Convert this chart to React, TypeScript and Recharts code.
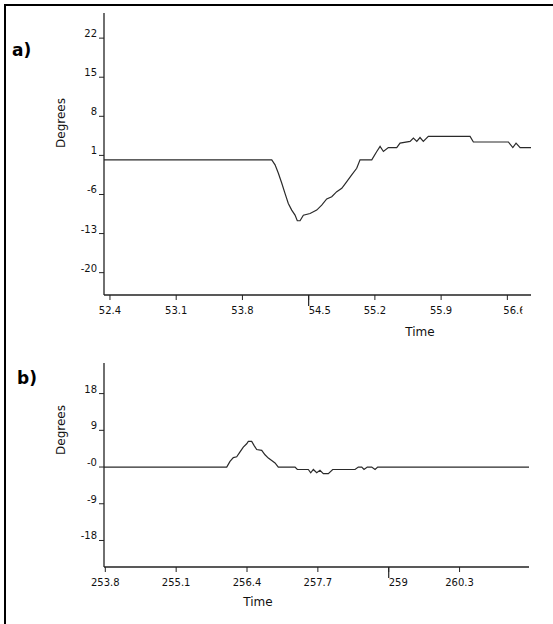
import { LineChart, Line, XAxis, YAxis } from 'recharts';

// panel a
const aTime = [
  52.337, 54.11, 54.145, 54.18, 54.216, 54.25, 54.285, 54.321, 54.356, 54.38, 54.409, 54.444, 54.515,
  54.585, 54.638, 54.691, 54.744, 54.797, 54.85, 54.903, 54.955, 55.008, 55.043, 55.167, 55.22, 55.255,
  55.29, 55.342, 55.431, 55.466, 55.572, 55.607, 55.643, 55.677, 55.712, 55.765, 56.206, 56.241, 56.611,
  56.658, 56.692, 56.735, 56.85,
];
const aDeg = [
  0.2, 0.2, -0.7, -2.2, -4.0, -5.8, -7.6, -8.8, -9.7, -10.7, -10.7, -9.7, -9.4, -8.8, -7.9, -6.8, -6.4,
  -5.5, -4.9, -3.7, -2.5, -1.3, 0.2, 0.2, 1.7, 2.6, 1.7, 2.4, 2.4, 3.2, 3.5, 4.1, 3.5, 4.2, 3.5, 4.4, 4.4,
  3.4, 3.4, 2.4, 3.2, 2.4, 2.4,
];
const aXTicks = [52.4, 53.1, 53.8, 54.5, 55.2, 55.9, 56.6];
const aYTicks = [22, 15, 8, 1, -6, -13, -20];
const aYLabels = ['22', '15', '8', '1', '-6', '-13', '-20'];
const aMark = 54.5;

// panel b
const bTime = [
  253.776, 256.028, 256.088, 256.149, 256.211, 256.272, 256.332, 256.394, 256.424, 256.486, 256.534,
  256.578, 256.67, 256.73, 256.791, 256.853, 256.914, 256.974, 257.281, 257.323, 257.525, 257.569,
  257.617, 257.679, 257.739, 257.8, 257.892, 257.972, 258.382, 258.442, 258.505, 258.547, 258.607,
  258.688, 258.749, 258.798, 261.574,
];
const bDeg = [
  0, 0, 1.4, 2.3, 2.5, 3.7, 4.9, 5.7, 6.3, 6.3, 5.2, 4.3, 4.1, 3.0, 2.2, 1.6, 1.0, 0, 0, -0.6, -0.6, -1.4,
  -0.6, -1.4, -0.8, -1.6, -1.6, -0.6, -0.6, 0, 0, -0.6, 0, 0, -0.6, 0, 0,
];
const bXTicks = [253.8, 255.1, 256.4, 257.7, 259, 260.3];
const bXLabels = ['253.8', '255.1', '256.4', '257.7', '259', '260.3'];
const bYTicks = [18, 9, 0, -9, -18];
const bYLabels = ['18', '9', '-0', '-9', '-18'];
const bMark = 259;

const font = '"DejaVu Sans", Verdana, sans-serif';

const makeYTick = (labels: string[]) => (props: any) => {
  const { x, y, index } = props;
  return (
    <text x={x} y={y - 1} textAnchor="end" fontSize={10} fontFamily={font} fill="#111">
      {labels[index]}
    </text>
  );
};

// the marked value gets a long tick and a left-aligned label;
// a clipped label is cut at the right edge like the original
const makeXTick = (labels: string[], mark: number, clipLast = false) => (props: any) => {
  const { x, y, index, payload } = props;
  const isMark = Math.abs(payload.value - mark) < 1e-6;
  if (clipLast && index === labels.length - 1) {
    return (
      <svg x={x - 4} y={y} width={19} height={16} overflow="hidden">
        <text x={0} y={12} fontSize={10} fontFamily={font} fill="#111">{labels[index]}</text>
      </svg>
    );
  }
  return (
    <g>
      {isMark && <line x1={x} y1={y - 7} x2={x} y2={y + 4} stroke="#222" strokeWidth={1.2} />}
      <text x={x} y={y + 12} textAnchor={isMark ? 'start' : 'middle'} fontSize={10} fontFamily={font} fill="#111">
        {labels[index]}
      </text>
    </g>
  );
};

export default function App() {
  const aData = aTime.map((t, i) => ({ t, v: aDeg[i] }));
  const bData = bTime.map((t, i) => ({ t, v: bDeg[i] }));
  const axisLine = { stroke: '#222', strokeWidth: 1.3 };
  const tickLine = { stroke: '#222' };

  return (
    <div style={{ position: 'absolute', left: 0, top: 0, width: 553, height: 624, background: '#fff' }}>
      <div style={{ position: 'absolute', left: 4, top: 4, width: 549, height: 620, borderTop: '2.5px solid #000', borderLeft: '2.5px solid #000', boxSizing: 'border-box' }} />

      <div style={{ position: 'absolute', left: 0, top: 0 }}>
        <LineChart width={531} height={325} data={aData} margin={{ top: 13, right: 0, bottom: 0, left: 44 }}>
          <XAxis
            dataKey="t"
            type="number"
            domain={[52.337, 56.85]}
            ticks={aXTicks}
            interval={0}
            allowDataOverflow
            height={30}
            axisLine={axisLine}
            tickLine={tickLine}
            tickSize={5}
            tickMargin={2}
            tick={makeXTick(aXTicks.map(String), aMark, true)}
          />
          <YAxis
            type="number"
            domain={[-24, 26.5]}
            ticks={aYTicks}
            interval={0}
            allowDataOverflow
            width={60}
            axisLine={axisLine}
            tickLine={tickLine}
            tickSize={5}
            tickMargin={2}
            tick={makeYTick(aYLabels)}
          />
          <Line dataKey="v" type="linear" stroke="#2a2a2a" strokeWidth={1.2} dot={false} isAnimationActive={false} />
        </LineChart>
      </div>

      <div style={{ position: 'absolute', left: 0, top: 340 }}>
        <LineChart width={529} height={257} data={bData} margin={{ top: 23, right: 0, bottom: 0, left: 44 }}>
          <XAxis
            dataKey="t"
            type="number"
            domain={[253.776, 261.574]}
            ticks={bXTicks}
            interval={0}
            allowDataOverflow
            height={30}
            axisLine={axisLine}
            tickLine={tickLine}
            tickSize={5}
            tickMargin={2}
            tick={makeXTick(bXLabels, bMark)}
          />
          <YAxis
            type="number"
            domain={[-24.5, 25.5]}
            ticks={bYTicks}
            interval={0}
            allowDataOverflow
            width={60}
            axisLine={axisLine}
            tickLine={tickLine}
            tickSize={5}
            tickMargin={2}
            tick={makeYTick(bYLabels)}
          />
          <Line dataKey="v" type="linear" stroke="#2a2a2a" strokeWidth={1.2} dot={false} isAnimationActive={false} />
        </LineChart>
      </div>

      <svg width={553} height={624} style={{ position: 'absolute', left: 0, top: 0, pointerEvents: 'none' }}>
        <text x={12} y={56} fontSize={17} fontWeight="bold" fontFamily={font} fill="#000">a)</text>
        <text x={17} y={384} fontSize={17} fontWeight="bold" fontFamily={font} fill="#000">b)</text>
        <text x={0} y={0} transform="translate(65,123) rotate(-90)" textAnchor="middle" fontSize={12} fontFamily={font} fill="#111">Degrees</text>
        <text x={0} y={0} transform="translate(65,430) rotate(-90)" textAnchor="middle" fontSize={12} fontFamily={font} fill="#111">Degrees</text>
        <text x={420} y={336} textAnchor="middle" fontSize={12} fontFamily={font} fill="#111">Time</text>
        <text x={258} y={606} textAnchor="middle" fontSize={12} fontFamily={font} fill="#111">Time</text>
      </svg>
    </div>
  );
}
